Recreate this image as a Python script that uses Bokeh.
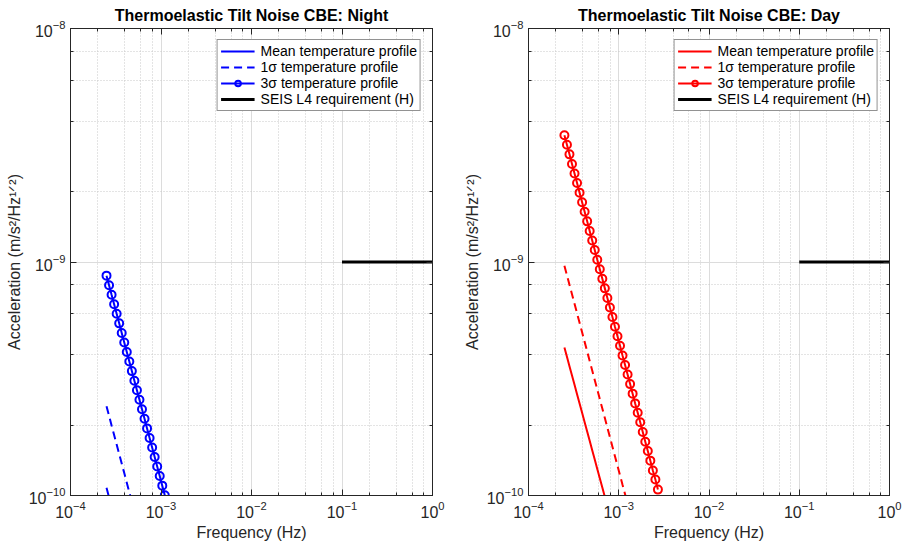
from bokeh.plotting import figure
from bokeh.layouts import row
from bokeh.models import (Range1d, LogAxis, Legend, LegendItem, LogTicker,
                          CustomJSTickFormatter)
from bokeh.embed import file_html
from bokeh.resources import INLINE

# ---------------- data ----------------
freq = [2.500e-4, 2.667e-4, 2.844e-4, 3.034e-4, 3.236e-4, 3.451e-4, 3.681e-4, 3.926e-4,
        4.188e-4, 4.467e-4, 4.764e-4, 5.081e-4, 5.420e-4, 5.781e-4, 6.166e-4, 6.577e-4,
        7.015e-4, 7.482e-4, 7.980e-4, 8.511e-4, 9.078e-4, 9.683e-4, 1.033e-3, 1.101e-3,
        1.175e-3, 1.253e-3, 1.336e-3, 1.425e-3, 1.520e-3, 1.622e-3, 1.730e-3, 1.845e-3,
        1.968e-3, 2.099e-3, 2.239e-3, 2.388e-3, 2.547e-3, 2.716e-3]

night_mean = [1.079e-10, 0.982e-10, 0.894e-10]
night_1sig = [2.410e-10, 2.194e-10, 1.996e-10, 1.817e-10, 1.654e-10, 1.505e-10, 1.370e-10,
              1.247e-10, 1.135e-10, 1.033e-10, 0.940e-10]
night_3sig = [8.740e-10, 7.955e-10, 7.238e-10, 6.589e-10, 5.998e-10, 5.460e-10, 4.969e-10,
              4.523e-10, 4.117e-10, 3.747e-10, 3.410e-10, 3.103e-10, 2.824e-10, 2.571e-10,
              2.340e-10, 2.130e-10, 1.938e-10, 1.764e-10, 1.606e-10, 1.462e-10, 1.330e-10,
              1.211e-10, 1.102e-10, 1.003e-10]

day_mean = [4.305e-10, 3.926e-10, 3.581e-10, 3.266e-10, 2.979e-10, 2.716e-10, 2.477e-10,
            2.259e-10, 2.061e-10, 1.879e-10, 1.714e-10, 1.563e-10, 1.426e-10, 1.300e-10,
            1.186e-10, 1.081e-10, 0.986e-10]
day_1sig = [9.645e-10, 8.780e-10, 7.993e-10, 7.276e-10, 6.624e-10, 6.030e-10, 5.489e-10,
            4.997e-10, 4.549e-10, 4.141e-10, 3.770e-10, 3.432e-10, 3.124e-10, 2.844e-10,
            2.589e-10, 2.357e-10, 2.145e-10, 1.953e-10, 1.778e-10, 1.618e-10, 1.473e-10,
            1.341e-10, 1.221e-10, 1.111e-10, 1.012e-10, 0.921e-10]
day_3sig = [3.491e-9, 3.177e-9, 2.891e-9, 2.630e-9, 2.393e-9, 2.178e-9, 1.982e-9, 1.803e-9,
            1.641e-9, 1.493e-9, 1.358e-9, 1.236e-9, 1.125e-9, 1.023e-9, 9.31e-10, 8.47e-10,
            7.71e-10, 7.01e-10, 6.38e-10, 5.81e-10, 5.28e-10, 4.81e-10, 4.38e-10, 3.98e-10,
            3.62e-10, 3.30e-10, 3.00e-10, 2.73e-10, 2.48e-10, 2.26e-10, 2.06e-10, 1.87e-10,
            1.70e-10, 1.55e-10, 1.41e-10, 1.28e-10, 1.17e-10, 1.06e-10]

seis_f = [0.1, 1.0]
seis_v = [1e-9, 1e-9]

labels = ["Mean temperature profile", "1\u03c3 temperature profile",
          "3\u03c3 temperature profile", "SEIS L4 requirement (H)"]
titles = ["Thermoelastic Tilt Noise CBE: Night", "Thermoelastic Tilt Noise CBE: Day"]
x_label = "Frequency (Hz)"
y_label = "Acceleration (m/s\u00b2/Hz\u00b9\u141f\u00b2)"

FONT = "Liberation Sans"
AX = "#262626"


def style_axis(ax, size="16px"):
    ax.axis_line_color = AX
    ax.axis_line_width = 1
    ax.major_tick_in = 6
    ax.major_tick_out = 0
    ax.minor_tick_in = 3
    ax.minor_tick_out = 0
    ax.major_tick_line_color = AX
    ax.minor_tick_line_color = AX
    ax.major_label_text_font = FONT
    ax.major_label_text_color = AX
    ax.major_label_text_font_size = size


def make_fig(title, color, mean, s1, s3, bl, br):
    p = figure(width=453, height=543, x_axis_type="log", y_axis_type="log",
               x_range=Range1d(1e-4, 1), y_range=Range1d(1e-10, 1e-8),
               output_backend="svg", toolbar_location=None,
               min_border_left=bl, min_border_right=br,
               min_border_top=28, min_border_bottom=47, title=title)
    p.title.text_font = FONT
    p.title.text_font_size = "16px"
    p.title.text_font_style = "bold"
    p.title.text_color = "black"
    p.title.align = "center"
    p.title.standoff = 2
    p.background_fill_color = "white"
    p.border_fill_color = "white"
    p.outline_line_color = AX
    p.outline_line_width = 1

    for ax in (p.xaxis[0], p.yaxis[0]):
        style_axis(ax)
        ax.axis_label_text_font = FONT
        ax.axis_label_text_font_size = "16px"
        ax.axis_label_text_font_style = "normal"
        ax.axis_label_text_color = AX
        ax.major_label_standoff = 5
    p.xaxis.axis_label = x_label
    p.yaxis.axis_label = y_label
    p.xaxis.axis_label_standoff = 3
    p.yaxis.axis_label_standoff = 3
    p.xaxis.ticker = LogTicker(desired_num_ticks=5)
    p.yaxis.ticker = LogTicker(desired_num_ticks=3)

    blank = CustomJSTickFormatter(code="return ' ';")
    top = LogAxis(ticker=LogTicker(desired_num_ticks=5), formatter=blank)
    style_axis(top, "1px")
    top.major_label_standoff = 0
    p.add_layout(top, "above")
    right = LogAxis(ticker=LogTicker(desired_num_ticks=3), formatter=blank)
    style_axis(right, "1px")
    right.major_label_standoff = 0
    p.add_layout(right, "right")

    p.xgrid.grid_line_color = "#dcdcdc"
    p.ygrid.grid_line_color = "#dcdcdc"
    p.xgrid.minor_grid_line_color = "#c8c8c8"
    p.ygrid.minor_grid_line_color = "#c8c8c8"
    p.xgrid.minor_grid_line_dash = "1 2"
    p.ygrid.minor_grid_line_dash = "1 2"

    r_mean = p.line(freq[:len(mean)], mean, line_color=color, line_width=2)
    r_1 = p.line(freq[:len(s1)], s1, line_color=color, line_width=2, line_dash="8 5")
    r_3 = p.line(freq[:len(s3)], s3, line_color=color, line_width=2)
    r_3m = p.scatter(freq[:len(s3)], s3, marker="circle", size=8, fill_color=None,
                     line_color=color, line_width=2)
    r_s = p.line(seis_f, seis_v, line_color="black", line_width=3)

    legend = Legend(items=[
        LegendItem(label=labels[0], renderers=[r_mean]),
        LegendItem(label=labels[1], renderers=[r_1]),
        LegendItem(label=labels[2], renderers=[r_3, r_3m]),
        LegendItem(label=labels[3], renderers=[r_s]),
    ], location="top_right")
    legend.label_text_font = FONT
    legend.label_text_font_size = "14px"
    legend.label_text_line_height = 1.0
    legend.label_text_color = "black"
    legend.label_height = 14
    legend.glyph_height = 14
    legend.glyph_width = 34
    legend.label_standoff = 6
    legend.spacing = 0
    legend.padding = 3
    legend.margin = 11
    legend.border_line_color = AX
    legend.border_line_width = 1
    legend.background_fill_color = "white"
    legend.background_fill_alpha = 1.0
    p.add_layout(legend)
    return p


p1 = make_fig(titles[0], "#0000ff", night_mean, night_1sig, night_3sig, 70, 21)
p2 = make_fig(titles[1], "#ff0000", day_mean, day_1sig, day_3sig, 75, 17)

layout = row(p1, p2)
with open("out.html", "w") as fh:
    fh.write(file_html(layout, INLINE))
